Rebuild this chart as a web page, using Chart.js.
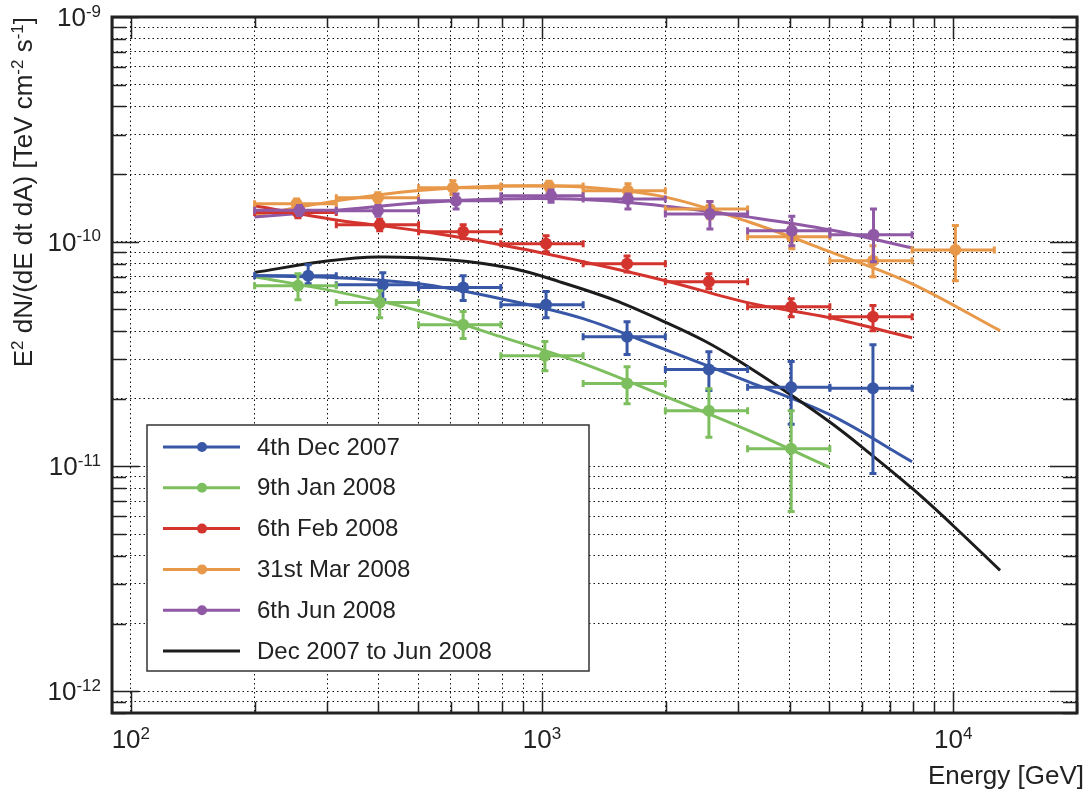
<!DOCTYPE html>
<html lang="en">
<head>
<meta charset="UTF-8">
<title>Flux spectra Dec 2007 - Jun 2008</title>
<script src="https://cdn.jsdelivr.net/npm/chart.js"></script>
<style>
    body {
        margin: 0;
        background: #fff;
    }
    .wrap {
        width: 1088px;
        height: 789px;
    }
</style>
</head>
<body>
<div class="wrap"><canvas id="spec" width="1088" height="789"></canvas></div>
<script>
// energy bins in GeV (same bins for every night)
const binLo = [200, 316, 501, 794, 1259, 1995, 3162, 5012, 7943];
const binHi = [316, 501, 794, 1259, 1995, 3162, 5012, 7943, 12589];

// 4th Dec 2007
const decE = [270, 410, 643, 1023, 1610, 2546, 4036, 6380];
const decF = [7.06e-11, 6.44e-11, 6.25e-11, 5.25e-11, 3.78e-11, 2.70e-11, 2.25e-11, 2.23e-11];
const decUp = [7.9e-11, 7.27e-11, 7.06e-11, 6.0e-11, 4.41e-11, 3.24e-11, 2.93e-11, 3.48e-11];
const decDn = [6.5e-11, 5.52e-11, 5.47e-11, 4.59e-11, 3.15e-11, 2.18e-11, 1.54e-11, 9.3e-12];
const decFitE = [200, 316, 501, 794, 1259, 1995, 3162, 5012, 7943];
const decFitF = [7.06e-11, 6.92e-11, 6.5e-11, 5.58e-11, 4.55e-11, 3.31e-11, 2.39e-11, 1.70e-11, 1.05e-11];

// 9th Jan 2008
const janE = [255, 403, 643, 1016, 1610, 2546, 4036];
const janF = [6.37e-11, 5.36e-11, 4.27e-11, 3.11e-11, 2.34e-11, 1.77e-11, 1.2e-11];
const janUp = [7.21e-11, 6.05e-11, 4.89e-11, 3.6e-11, 2.78e-11, 2.22e-11, 1.77e-11];
const janDn = [5.52e-11, 4.59e-11, 3.71e-11, 2.67e-11, 1.9e-11, 1.35e-11, 6.3e-12];
const janFitE = [200, 316, 501, 794, 1259, 1995, 3162, 5012];
const janFitF = [6.99e-11, 6.0e-11, 4.93e-11, 3.78e-11, 2.87e-11, 2.05e-11, 1.45e-11, 9.9e-12];

// 6th Feb 2008
const febE = [255, 403, 643, 1023, 1610, 2546, 4036, 6380];
const febF = [1.35e-10, 1.19e-10, 1.107e-10, 9.8e-11, 7.98e-11, 6.64e-11, 5.14e-11, 4.64e-11];
const febUp = [1.43e-10, 1.26e-10, 1.19e-10, 1.063e-10, 8.65e-11, 7.21e-11, 5.58e-11, 5.2e-11];
const febDn = [1.28e-10, 1.12e-10, 1.03e-10, 9.03e-11, 7.33e-11, 6.18e-11, 4.64e-11, 4.02e-11];
const febFitE = [200, 316, 501, 794, 1259, 1995, 3162, 5012, 7943];
const febFitF = [1.445e-10, 1.25e-10, 1.12e-10, 9.7e-11, 8.15e-11, 6.71e-11, 5.36e-11, 4.59e-11, 3.74e-11];

// 31st Mar 2008
const marE = [253, 399, 607, 1040, 1618, 2560, 4050, 6380, 10120];
const marF = [1.476e-10, 1.57e-10, 1.738e-10, 1.77e-10, 1.685e-10, 1.40e-10, 1.052e-10, 8.24e-11, 9.2e-11];
const marUp = [1.55e-10, 1.65e-10, 1.87e-10, 1.86e-10, 1.81e-10, 1.51e-10, 1.166e-10, 9.6e-11, 1.18e-10];
const marDn = [1.41e-10, 1.49e-10, 1.62e-10, 1.68e-10, 1.57e-10, 1.265e-10, 9.3e-11, 6.99e-11, 6.71e-11];
const marFitE = [200, 316, 501, 794, 1259, 1995, 3162, 5012, 7943, 13000];
const marFitF = [1.31e-10, 1.52e-10, 1.69e-10, 1.77e-10, 1.75e-10, 1.58e-10, 1.23e-10, 9.03e-11, 6.5e-11, 4.02e-11];

// 6th Jun 2008
const junE = [257, 399, 618, 1052, 1618, 2560, 4050, 6400];
const junF = [1.38e-10, 1.374e-10, 1.52e-10, 1.6e-10, 1.55e-10, 1.33e-10, 1.12e-10, 1.074e-10];
const junUp = [1.45e-10, 1.45e-10, 1.63e-10, 1.7e-10, 1.63e-10, 1.51e-10, 1.3e-10, 1.40e-10];
const junDn = [1.31e-10, 1.30e-10, 1.40e-10, 1.5e-10, 1.40e-10, 1.14e-10, 9.6e-11, 8.15e-11];
const junFitE = [200, 316, 501, 794, 1259, 1995, 3162, 5012, 7943];
const junFitF = [1.29e-10, 1.38e-10, 1.49e-10, 1.55e-10, 1.54e-10, 1.44e-10, 1.29e-10, 1.13e-10, 9.4e-11];

// Dec 2007 to Jun 2008 (combined fit, no points)
const allFitE = [200, 300, 400, 600, 850, 1100, 1500, 2000, 2500, 3000, 4000, 5000, 6000, 8000, 10000, 13000];
const allFitF = [7.3e-11, 8.2e-11, 8.55e-11, 8.3e-11, 7.6e-11, 6.65e-11, 5.5e-11, 4.38e-11, 3.6e-11, 2.96e-11, 2.1e-11, 1.58e-11, 1.22e-11, 7.9e-12, 5.45e-12, 3.45e-12];

// axis ranges
const xRange = [90, 20000];
const yRange = [8e-13, 1e-9];

const series = [
    { label: '4th Dec 2007', color: '#3857a6', e: decE, f: decF, up: decUp, dn: decDn, fitE: decFitE, fitF: decFitF },
    { label: '9th Jan 2008', color: '#7dbf5e', e: janE, f: janF, up: janUp, dn: janDn, fitE: janFitE, fitF: janFitF },
    { label: '6th Feb 2008', color: '#d3342e', e: febE, f: febF, up: febUp, dn: febDn, fitE: febFitE, fitF: febFitF },
    { label: '31st Mar 2008', color: '#e89849', e: marE, f: marF, up: marUp, dn: marDn, fitE: marFitE, fitF: marFitF },
    { label: '6th Jun 2008', color: '#9059a5', e: junE, f: junF, up: junUp, dn: junDn, fitE: junFitE, fitF: junFitF },
    { label: 'Dec 2007 to Jun 2008', color: '#1c1c1c', fitE: allFitE, fitF: allFitF }
];

const toXY = (xs, ys) => xs.map((x, i) => ({ x: x, y: ys[i] }));

const datasets = [];
series.forEach((s, i) => {
    datasets.push({
        label: s.label + ' fit',
        data: toXY(s.fitE, s.fitF),
        showLine: true,
        borderColor: s.color,
        borderWidth: 3,
        pointRadius: 0,
        tension: 0.35,
        order: 20 - i
    });
    if (s.e) {
        datasets.push({
            label: s.label,
            data: toXY(s.e, s.f),
            showLine: false,
            pointRadius: 6,
            pointBackgroundColor: s.color,
            backgroundColor: s.color,
            borderWidth: 0,
            errUp: s.up,
            errDn: s.dn,
            order: 10 - i
        });
    }
});

// 1..9 x 10^n ticks for the grid
function logTicks(min, max) {
    const out = [];
    for (let p = Math.floor(Math.log10(min)); p <= Math.ceil(Math.log10(max)); p++) {
        for (let m = 1; m < 10; m++) {
            const v = m * Math.pow(10, p);
            if (v >= min * 0.999 && v <= max * 1.001) out.push({ value: v, major: m === 1 });
        }
    }
    return out;
}

function isDecade(v) {
    const l = Math.log10(v);
    return Math.abs(l - Math.round(l)) < 1e-6;
}

const FONT = '"Liberation Sans", Arial, sans-serif';
const TEXT = '#222';

// draws text made of [string, raised] parts, raised parts smaller and lifted
function drawRich(ctx, parts, x, y, align, size) {
    const small = Math.round(size * 0.66);
    const ws = parts.map(p => {
        ctx.font = (p[1] ? small : size) + 'px ' + FONT;
        return ctx.measureText(p[0]).width;
    });
    const total = ws.reduce((a, b) => a + b, 0);
    let cx = align === 'right' ? x - total : (align === 'center' ? x - total / 2 : x);
    ctx.textAlign = 'left';
    ctx.textBaseline = 'alphabetic';
    parts.forEach((p, i) => {
        ctx.font = (p[1] ? small : size) + 'px ' + FONT;
        ctx.fillText(p[0], cx, p[1] ? y - size * 0.36 : y);
        cx += ws[i];
    });
}

const powParts = v => [['10', false], [String(Math.round(Math.log10(v))), true]];

const yTitle = [['E', false], ['2', true], [' dN/(dE dt dA) [TeV cm', false], ['-2', true],
    [' s', false], ['-1', true], [']', false]];
const xTitle = [['Energy [GeV]', false]];

// tick labels and axis titles with real superscripts
const axisText = {
    id: 'axisText',
    afterDraw(chart) {
        const { ctx, chartArea: a } = chart;
        const xs = chart.scales.x, ys = chart.scales.y;
        ctx.save();
        ctx.fillStyle = TEXT;
        xs.ticks.filter(t => isDecade(t.value)).forEach(t => {
            drawRich(ctx, powParts(t.value), xs.getPixelForValue(t.value), a.bottom + 35, 'center', 26);
        });
        ys.ticks.filter(t => isDecade(t.value)).forEach(t => {
            drawRich(ctx, powParts(t.value), a.left - 11, ys.getPixelForValue(t.value) + 9, 'right', 26);
        });
        drawRich(ctx, xTitle, a.right + 7, a.bottom + 71, 'right', 26);
        ctx.translate(32, a.top);
        ctx.rotate(-Math.PI / 2);
        drawRich(ctx, yTitle, 0, 0, 'right', 26);
        ctx.restore();
    }
};

// error bars drawn from the bin edges and up/down values
const errorBars = {
    id: 'errorBars',
    afterDatasetDraw(chart, args) {
        const ds = chart.data.datasets[args.index];
        if (!ds.errUp) return;
        const xs = chart.scales.x, ys = chart.scales.y, ctx = chart.ctx;
        const cap = 3.5;
        ctx.save();
        ctx.strokeStyle = ds.backgroundColor;
        ctx.lineWidth = 3;
        ds.data.forEach((p, i) => {
            const px = xs.getPixelForValue(p.x);
            const py = ys.getPixelForValue(p.y);
            const x0 = xs.getPixelForValue(binLo[i]);
            const x1 = xs.getPixelForValue(binHi[i]);
            const y0 = ys.getPixelForValue(ds.errUp[i]);
            const y1 = ys.getPixelForValue(ds.errDn[i]);
            ctx.beginPath();
            ctx.moveTo(x0, py); ctx.lineTo(x1, py);
            ctx.moveTo(px, y0); ctx.lineTo(px, y1);
            ctx.moveTo(x0, py - cap); ctx.lineTo(x0, py + cap);
            ctx.moveTo(x1, py - cap); ctx.lineTo(x1, py + cap);
            ctx.moveTo(px - cap, y0); ctx.lineTo(px + cap, y0);
            ctx.moveTo(px - cap, y1); ctx.lineTo(px + cap, y1);
            ctx.stroke();
        });
        ctx.restore();
    }
};

// ROOT-like frame with inward ticks on all four sides
const frame = {
    id: 'frame',
    afterDraw(chart) {
        const { ctx, chartArea: a } = chart;
        const xs = chart.scales.x, ys = chart.scales.y;
        ctx.save();
        ctx.strokeStyle = '#222';
        ctx.lineWidth = 1.5;
        ctx.beginPath();
        xs.ticks.forEach(t => {
            const px = Math.round(xs.getPixelForValue(t.value)) + 0.5;
            const len = isDecade(t.value) ? 22 : 11;
            ctx.moveTo(px, a.bottom); ctx.lineTo(px, a.bottom - len);
            ctx.moveTo(px, a.top); ctx.lineTo(px, a.top + len);
        });
        ys.ticks.forEach(t => {
            const py = Math.round(ys.getPixelForValue(t.value)) + 0.5;
            const len = isDecade(t.value) ? 27 : 14;
            ctx.moveTo(a.left, py); ctx.lineTo(a.left + len, py);
            ctx.moveTo(a.right, py); ctx.lineTo(a.right - len, py);
        });
        ctx.stroke();
        ctx.lineWidth = 3;
        ctx.strokeRect(a.left, a.top, a.right - a.left, a.bottom - a.top);
        ctx.restore();
    }
};

// legend box inside the plot, lower left
const boxLegend = {
    id: 'boxLegend',
    afterDraw(chart) {
        const { ctx, chartArea: a } = chart;
        const bx = a.left + 35, by = a.top + 408, bw = 442, bh = 246;
        ctx.save();
        ctx.fillStyle = '#fff';
        ctx.fillRect(bx, by, bw, bh);
        ctx.strokeStyle = '#333';
        ctx.lineWidth = 1.5;
        ctx.strokeRect(bx, by, bw, bh);
        ctx.font = '24px ' + FONT;
        ctx.textBaseline = 'middle';
        series.forEach((s, i) => {
            const ry = by + 22 + i * 40.8;
            ctx.strokeStyle = s.color;
            ctx.lineWidth = 3;
            ctx.beginPath();
            ctx.moveTo(bx + 16, ry); ctx.lineTo(bx + 93, ry);
            ctx.stroke();
            if (s.e) {
                ctx.fillStyle = s.color;
                ctx.beginPath();
                ctx.arc(bx + 55, ry, 5, 0, Math.PI * 2);
                ctx.fill();
            }
            ctx.fillStyle = TEXT;
            ctx.fillText(s.label, bx + 110, ry + 1);
        });
        ctx.restore();
    }
};

const gridStyle = { color: '#111', lineWidth: 1, drawTicks: false };
const dotted = { display: false, dash: [1.5, 3] };

new Chart(document.getElementById('spec'), {
    type: 'scatter',
    data: { datasets: datasets },
    plugins: [errorBars, axisText, frame, boxLegend],
    options: {
        responsive: false,
        animation: false,
        devicePixelRatio: 1,
        layout: { padding: { top: 17, right: 11, left: 0, bottom: 0 } },
        plugins: {
            legend: { display: false },
            tooltip: { enabled: false }
        },
        scales: {
            x: {
                type: 'logarithmic',
                min: xRange[0],
                max: xRange[1],
                afterBuildTicks: s => { s.ticks = logTicks(xRange[0], xRange[1]); },
                afterFit: s => { s.height = 76; s.paddingLeft = 0; s.paddingRight = 0; },
                grid: gridStyle,
                border: dotted,
                ticks: { display: false },
                title: { display: false }
            },
            y: {
                type: 'logarithmic',
                min: yRange[0],
                max: yRange[1],
                afterBuildTicks: s => { s.ticks = logTicks(yRange[0], yRange[1]); },
                afterFit: s => { s.width = 112; s.paddingTop = 0; s.paddingBottom = 0; },
                grid: gridStyle,
                border: dotted,
                ticks: { display: false },
                title: { display: false }
            }
        }
    }
});
</script>
</body>
</html>
